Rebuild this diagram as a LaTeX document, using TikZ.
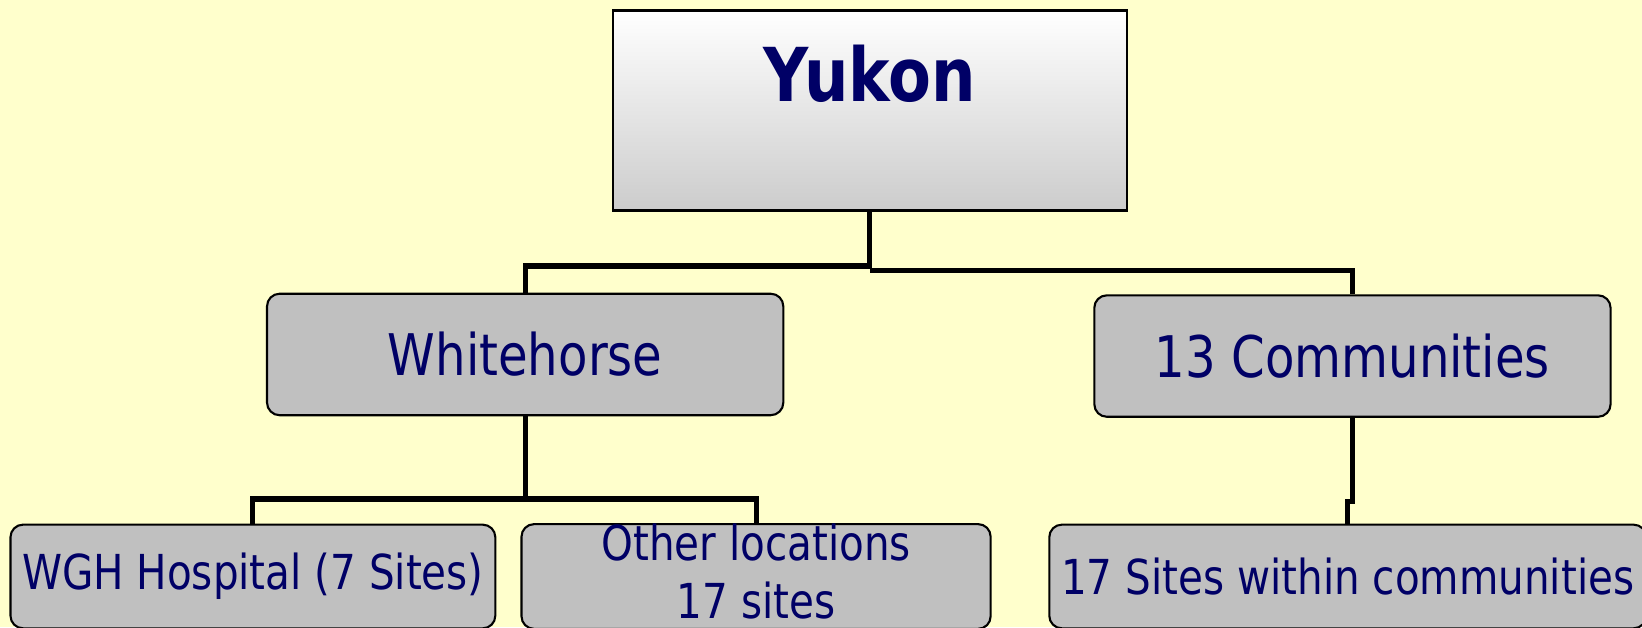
\documentclass[tikz,border=0pt]{standalone}
\usepackage{fontspec}
\setmainfont[FakeStretch=0.84]{DejaVu Sans}
\usetikzlibrary{positioning}
\definecolor{bgyellow}{HTML}{FFFFCC}
\definecolor{navytext}{HTML}{000066}
\definecolor{boxgray}{HTML}{C0C0C0}

\begin{document}
\begin{tikzpicture}[x=0.5pt,y=-0.5pt,
    link/.style={black,line width=2.4pt},
    unitbox/.style={rectangle,rounded corners=6pt,draw=black,line width=1pt,fill=boxgray,text=navytext,inner sep=0pt,align=center},
    midbox/.style={unitbox,minimum width=246.5pt,minimum height=58pt,font=\fontsize{27.4}{33}\selectfont},
    sitebox/.style={unitbox,minimum height=49.5pt,font=\fontsize{23}{27.5}\selectfont}]
      \useasboundingbox[fill=bgyellow] (0,0) rectangle (1568,599);

      %top level
      \node[rectangle,draw=black,line width=1pt,top color=white,bottom color=black!20,text=navytext,inner sep=0pt,
            font=\bfseries\fontsize{35.5}{42}\selectfont,minimum width=245.5pt,text height=43.5pt,text depth=52pt] (yukon) at (830.5,105.5) {Yukon};

      %second level
      \node[midbox] (white) at (501.5,338.5) {Whitehorse};
      \node[midbox] (comm) at (1291.5,340) {13 Communities};

      %sites
      \node[sitebox,minimum width=231.5pt] (wgh) at (241.5,550.5) {WGH Hospital (7 Sites)};
      \node[sitebox,minimum width=224pt,text height=45pt,text depth=5pt] (other) at (722,550.5) {Other locations\\17 sites};
      \node[sitebox,minimum width=285pt] (sites) at (1287,550.5) {17 Sites within communities};

      %connectors
      \draw[link] (yukon.south) -- ++(0,52) -| (white.north);
      \draw[link] (yukon.south) ++(0,56) -| (comm.north);
      \draw[link] (white.south) -- ++(0,79) -| (wgh.north);
      \draw[link] (white.south) ++(0,79) -| (other.north);
      \draw[link] (comm.south) -- ++(0,80) -| (sites.north);

    \end{tikzpicture}
\end{document}
